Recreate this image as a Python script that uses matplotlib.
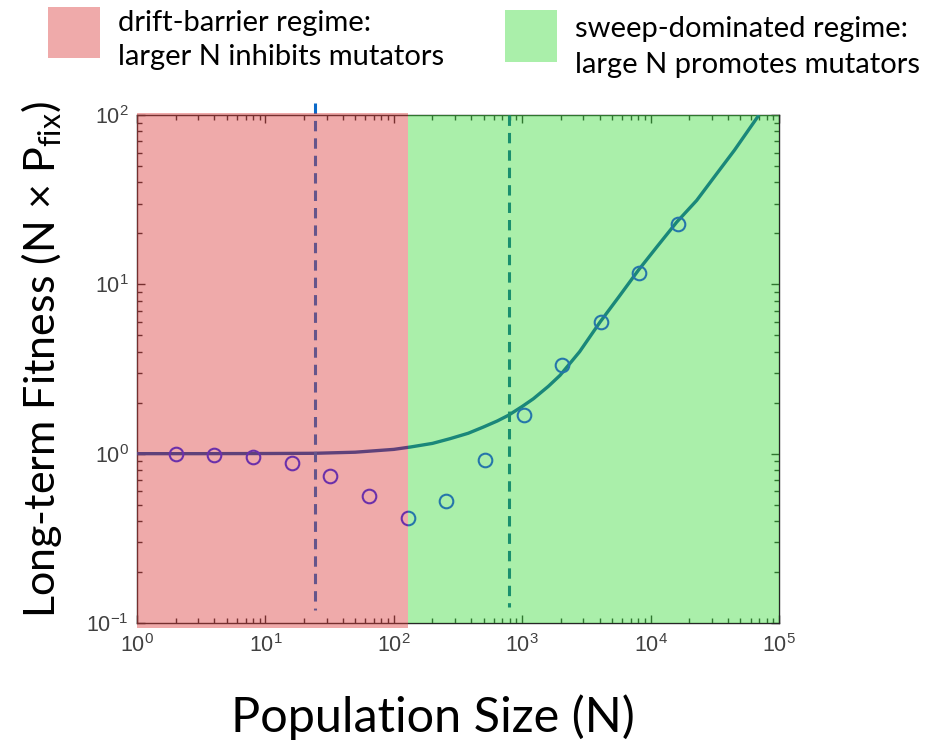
import matplotlib
matplotlib.use("Agg")
import matplotlib.pyplot as plt
import matplotlib.transforms as mtransforms
from matplotlib.patches import Rectangle
from matplotlib.ticker import LogLocator, NullFormatter

# ---------------- data ----------------
pop_sizes = [2, 4, 8, 16, 32, 64, 128, 256, 512, 1024, 2048, 4096, 8192, 16384]
fitness_sim = [1.00, 0.98, 0.95, 0.885, 0.734, 0.565, 0.417, 0.525, 0.913,
               1.69, 3.33, 6.0, 11.6, 22.6]

curve_n = [1, 3, 10, 24, 50, 100, 134, 200, 274, 380, 498, 640, 780, 1000, 1222,
           1600, 1970, 2800, 4040, 5700, 8020, 11300, 15970, 22850, 32000, 45000, 69800]
curve_f = [1.0, 1.0, 1.002, 1.005, 1.02, 1.06, 1.094, 1.15, 1.226, 1.32, 1.436,
           1.56, 1.684, 1.90, 2.11, 2.50, 2.90, 4.0, 5.99, 8.5, 12.1, 16.8, 23.3,
           31.3, 44.0, 62.0, 100.0]

drift_boundary = 130        # end of drift-barrier regime
dashed_left = 24.5
dashed_right = 790

x_ticks = [1e0, 1e1, 1e2, 1e3, 1e4, 1e5]
y_ticks = [1e-1, 1e0, 1e1, 1e2]

legend_labels = ["drift-barrier regime:\nlarger N inhibits mutators",
                 "sweep-dominated regime:\nlarge N promotes mutators"]
xlabel = "Population Size (N)"
ylabel = r"Long-term Fitness (N × P$_\mathregular{fix}$)"

# ---------------- style ----------------
plt.rcParams['font.family'] = ['Liberation Sans', 'DejaVu Sans']
plt.rcParams['mathtext.default'] = 'regular'

W, H = 939, 742
fig = plt.figure(figsize=(W / 100, H / 100), dpi=100)
ax = fig.add_axes([137 / W, 1 - 623 / H, (779 - 137) / W, (623 - 115) / H])

ax.set_xscale('log')
ax.set_yscale('log')
ax.set_xlim(1, 1e5)
ax.set_ylim(0.1, 100)

curve_col = (0 / 255, 70 / 255, 170 / 255)
circ_col = (20 / 255, 40 / 255, 255 / 255)

ax.plot(curve_n, curve_f, color=curve_col, lw=2.4, zorder=3, solid_capstyle='butt')
ax.plot(pop_sizes, fitness_sim, linestyle='none', marker='o', ms=9.8,
        mfc='none', mec=circ_col, mew=1.5, zorder=4)

# dashed regime markers (drawn top -> bottom so the dash pattern starts at the top)
ax.plot([dashed_left, dashed_left], [117, 0.119], color=(10 / 255, 105 / 255, 200 / 255),
        lw=2.2, dashes=(3.4, 2.3), clip_on=False, zorder=3)
ax.plot([dashed_right, dashed_right], [100, 0.125], color=(0 / 255, 85 / 255, 150 / 255),
        lw=2.2, dashes=(3.4, 2.3), clip_on=False, zorder=3)

# ticks, MATLAB style
ax.set_xticks(x_ticks)
ax.set_yticks(y_ticks)
ax.xaxis.set_minor_locator(LogLocator(base=10, subs=range(2, 10), numticks=20))
ax.yaxis.set_minor_locator(LogLocator(base=10, subs=range(2, 10), numticks=20))
ax.xaxis.set_minor_formatter(NullFormatter())
ax.yaxis.set_minor_formatter(NullFormatter())
ax.tick_params(which='both', direction='in', top=True, right=True,
               colors=(0.15, 0.15, 0.15), labelcolor=(0.25, 0.25, 0.25))
ax.tick_params(which='major', length=6, width=1, labelsize=15.5)
ax.tick_params(which='minor', length=3.5, width=1)
ax.tick_params(axis='x', which='major', pad=8)
ax.tick_params(axis='y', which='major', pad=6)
for s in ax.spines.values():
    s.set_color((0.15, 0.15, 0.15))
    s.set_linewidth(1.0)

# translucent regime overlays on top
red_c = (220 / 255, 60 / 255, 60 / 255)
green_c = (60 / 255, 220 / 255, 60 / 255)
trans = mtransforms.blended_transform_factory(ax.transData, ax.transAxes)
ax.add_patch(Rectangle((1, -0.01), drift_boundary - 1, 1.014, transform=trans,
                       facecolor=red_c, alpha=0.436, edgecolor='none',
                       clip_on=False, zorder=10))
ax.add_patch(Rectangle((drift_boundary, 0), 1e5 - drift_boundary, 1.0, transform=trans,
                       facecolor=green_c, alpha=0.436, edgecolor='none',
                       clip_on=False, zorder=10))

# axis labels
fig.text(433 / W, 1 - 717 / H, xlabel, family='Lato', fontsize=35,
         ha='center', va='center', color='black')
fig.text(42 / W, 1 - 360 / H, ylabel, family='Lato', fontsize=31,
         ha='center', va='center', rotation=90, color='black')

# legend at top
fig.patches.append(Rectangle((48 / W, 1 - 58 / H), 52 / W, 51 / H, transform=fig.transFigure,
                             facecolor=red_c, alpha=0.436, edgecolor='none'))
fig.patches.append(Rectangle((505 / W, 1 - 62 / H), 52 / W, 52 / H, transform=fig.transFigure,
                             facecolor=green_c, alpha=0.436, edgecolor='none'))
fig.text(118 / W, 1 - 40 / H, legend_labels[0], family='Lato', fontsize=21,
         ha='left', va='center', linespacing=1.35, color='black')
fig.text(575 / W, 1 - 47 / H, legend_labels[1], family='Lato', fontsize=21,
         ha='left', va='center', linespacing=1.45, color='black')

fig.savefig("out.png", dpi=100)
